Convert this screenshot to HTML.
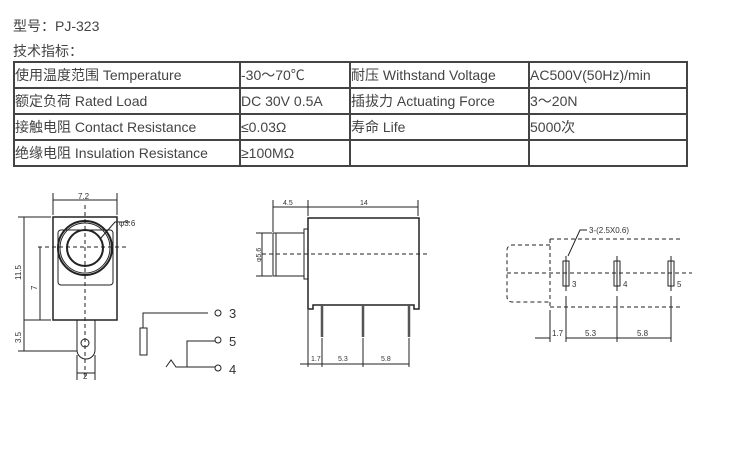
<!DOCTYPE html>
<html><head><meta charset="utf-8"><style>
body{margin:0;width:751px;height:465px;background:#fff;overflow:hidden;position:relative;font-family:"Liberation Sans","Noto Sans CJK SC",sans-serif;color:#444}
.t{position:absolute;font-size:14px;left:13px}
table{position:absolute;left:13px;top:61px;border-collapse:collapse;font-size:14px;color:#444}
td{border:2px solid #444;height:24px;padding:0;white-space:nowrap;line-height:24px}
svg{position:absolute;left:0;top:0}
svg text{font-family:"Liberation Sans",sans-serif;fill:#333}
</style></head><body>
<div class="t" style="top:16px">型号：PJ-323</div>
<div class="t" style="top:41px">技术指标：</div>
<table>
<tr><td style="width:224px">使用温度范围 Temperature</td><td style="width:108px">-30～70℃</td><td style="width:177px">耐压 Withstand Voltage</td><td style="width:156px">AC500V(50Hz)/min</td></tr>
<tr><td>额定负荷 Rated Load</td><td>DC 30V 0.5A</td><td>插拔力 Actuating Force</td><td>3～20N</td></tr>
<tr><td>接触电阻 Contact Resistance</td><td>≤0.03Ω</td><td>寿命 Life</td><td>5000次</td></tr>
<tr><td>绝缘电阻 Insulation Resistance</td><td>≥100MΩ</td><td></td><td></td></tr>
</table>
<svg width="751" height="465" viewBox="0 0 751 465" fill="none" stroke="#222" stroke-width="1">
<!-- left view -->
<rect x="53" y="217" width="64" height="103" stroke-width="1.5"/>
<rect x="58" y="230" width="55" height="55" rx="3"/>
<circle cx="85" cy="248" r="27" stroke-width="2"/>
<circle cx="85" cy="248" r="25"/>
<circle cx="85" cy="248" r="18" stroke-width="2"/>
<path d="M77 320V350a8 8 0 0 0 18 0V320"/>
<circle cx="85" cy="343" r="4"/>
<path d="M85 205V378M38 247H128" stroke-dasharray="4 3"/>
<path d="M53 193V215M117 193V215M53 200H117M18 217H51M24 217V351M18 351H77M24 320H51M40 247V320M77 355V380M95 355V380M77 373H95M100 239L115 222H130"/>
<text x="78" y="199" font-size="8" stroke="none">7.2</text>
<text x="119" y="226" font-size="8" stroke="none">φ3.6</text>
<text transform="translate(21,280) rotate(-90)" font-size="8" stroke="none">11.5</text>
<text transform="translate(37,290) rotate(-90)" font-size="8" stroke="none">7</text>
<text transform="translate(21,343) rotate(-90)" font-size="8" stroke="none">3.5</text>
<text x="83" y="379" font-size="8" stroke="none">2</text>
<!-- schematic -->
<rect x="140" y="328" width="7" height="27"/>
<path d="M143 328V313H208M187 367V341H215M166 367L171 360L176 367H215"/>
<circle cx="218" cy="313" r="3"/><circle cx="218" cy="340" r="3"/><circle cx="218" cy="368" r="3"/>
<text x="229" y="318" font-size="13" stroke="none">3</text>
<text x="229" y="346" font-size="13" stroke="none">5</text>
<text x="229" y="374" font-size="13" stroke="none">4</text>
<!-- middle -->
<path d="M308 218H419V309H414V305H313V309H308Z" stroke-width="1.5"/>
<path d="M304 229H308V279H304ZM273 233H304V276H273ZM276 233V276" />
<path d="M262 254H430" stroke-dasharray="4 3"/>
<path d="M322 304V337M363 304V337M409 304V337" stroke-width="2.5" stroke="#555"/>
<path d="M273 200V232M308 200V216M418 200V216M273 207H418M256 233H272M256 276H272M262 233V276M308 310V367M322 338V367M363 338V367M409 338V367M300 364H409"/>
<text x="283" y="205" font-size="7" stroke="none">4.5</text>
<text x="360" y="205" font-size="7" stroke="none">14</text>
<text transform="translate(261,262) rotate(-90)" font-size="7" stroke="none">φ5.6</text>
<text x="311" y="361" font-size="7" stroke="none">1.7</text>
<text x="338" y="361" font-size="7" stroke="none">5.3</text>
<text x="381" y="361" font-size="7" stroke="none">5.8</text>
<!-- right -->
<path d="M550 245H512a5 5 0 0 0 -5 5V297a5 5 0 0 0 5 5H550M550 239V308M550 239H680M550 307H680M507 273H692" stroke-dasharray="4 3"/>
<rect x="563" y="261" width="6" height="25"/><rect x="614" y="261" width="6" height="25"/><rect x="668" y="261" width="6" height="25"/>
<path d="M566 256V291M617 256V291M671 256V291"/>
<path d="M566 296V342M617 296V342M671 296V342M550 310V342M535 338H550M566 338H671M568 256L580 230H587"/>
<text x="589" y="233" font-size="8" stroke="none">3-(2.5X0.6)</text>
<text x="572" y="287" font-size="8" stroke="none">3</text>
<text x="623" y="287" font-size="8" stroke="none">4</text>
<text x="677" y="287" font-size="8" stroke="none">5</text>
<text x="552" y="336" font-size="8" stroke="none">1.7</text>
<text x="585" y="336" font-size="8" stroke="none">5.3</text>
<text x="637" y="336" font-size="8" stroke="none">5.8</text>
</svg>
</body></html>
